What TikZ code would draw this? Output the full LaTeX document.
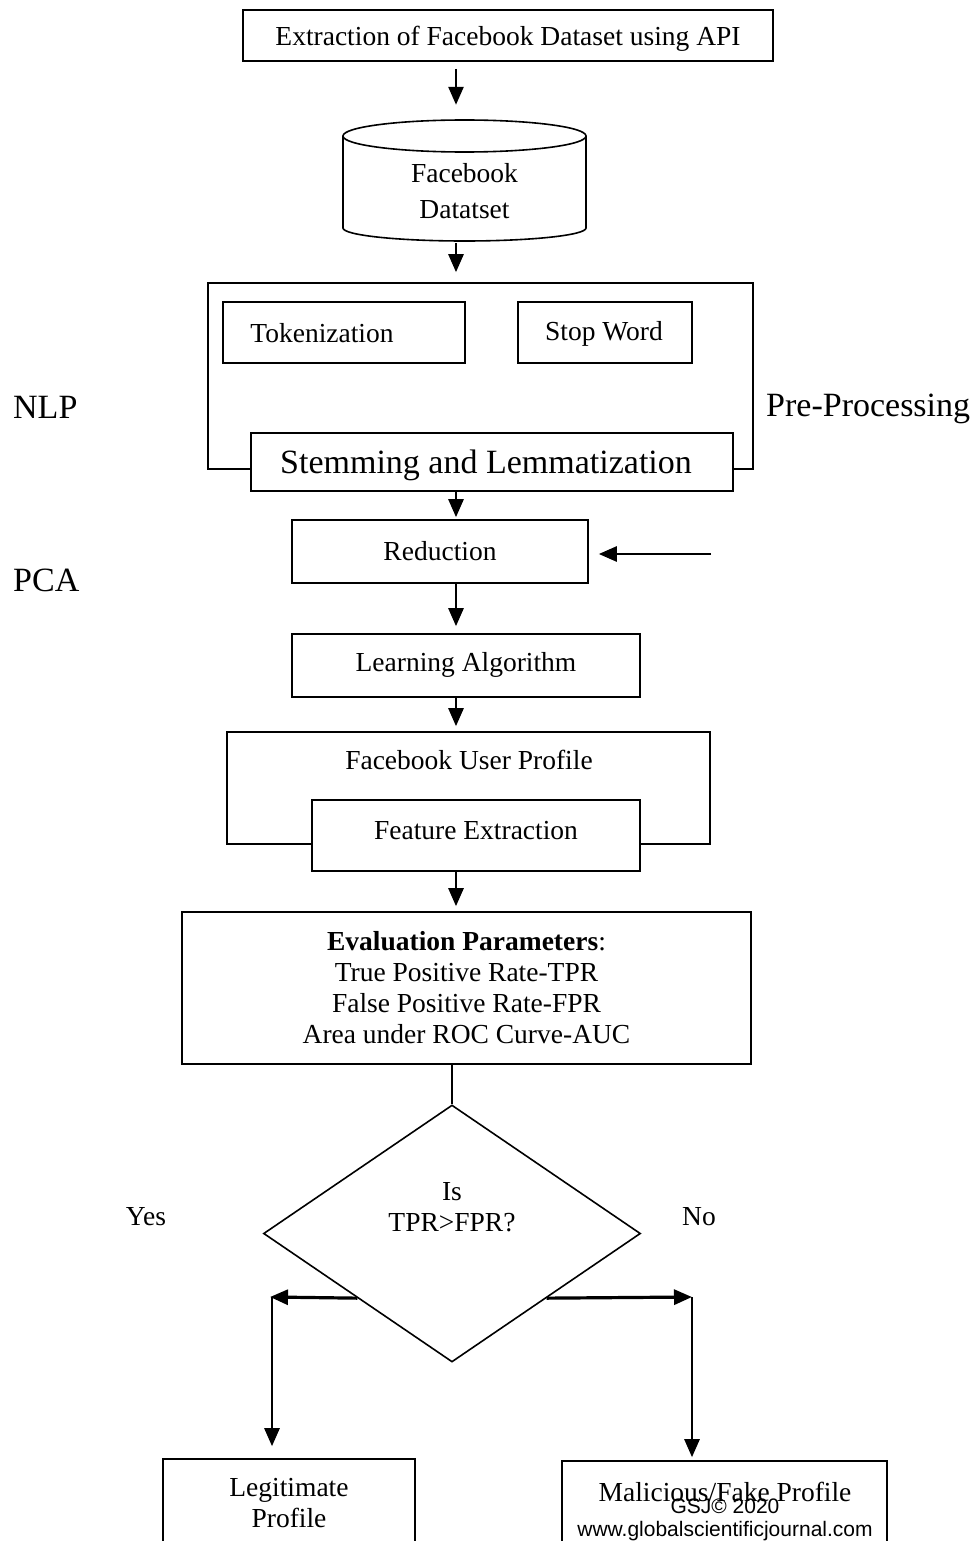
\documentclass[tikz,border=0pt]{standalone}
\usepackage{fontspec}
\setmainfont{Liberation Serif}
\setsansfont{Liberation Sans}
\usetikzlibrary{arrows.meta,shapes.geometric,calc}
\newcommand\fsn{\fontsize{27.5}{31}\selectfont}
\newcommand\fbg{\fontsize{34}{40}\selectfont}
\newcommand\fwm{\sffamily\fontsize{21}{25}\selectfont}
\tikzset{
  box/.style={draw, line width=1.6pt, fill=white, inner sep=0pt, font=\fsn, align=center},
  lbl/.style={inner sep=0pt, font=\fsn, align=center},
  biglbl/.style={inner sep=0pt, font=\fbg},
  wmark/.style={inner sep=0pt, font=\fwm},
  arr/.style={line width=2.6pt, -{Triangle[length=18pt,width=15pt]}},
  plainline/.style={line width=2.6pt},
}
\begin{document}
\begin{tikzpicture}[x=1pt,y=-1pt]
\useasboundingbox (0,0) rectangle (973,1541);
\clip (0,0) rectangle (973,1541);
\coordinate (cx) at (456,0);
% top box
\node[box, minimum width=530pt, minimum height=51pt] (top) at (508,35.5) {};
\node[lbl] (toptext) at (508,39) {Extraction of Facebook Dataset using API};
% cylinder
\node[lbl, minimum width=243pt, minimum height=121pt] (db) at (464.5,180.5) {};
\node[lbl] (dbtext) at (464.5,191) {Facebook\\[5pt]Datatset};
\draw[line width=1.6pt] (343,136) -- (343,228) arc[start angle=180, end angle=360, x radius=121.5pt, y radius=13pt] -- (586,136);
\draw[line width=1.6pt] (464.5,136) ellipse [x radius=121.5pt, y radius=16pt];
% pre-processing
\node[draw, line width=1.6pt, inner sep=0pt, minimum width=545pt, minimum height=186pt] (pre) at (480.5,376) {};
\node[box, minimum width=242pt, minimum height=61pt] (tok) at (344,332.5) {};
\node[lbl] (toktext) at (322,333) {Tokenization};
\node[box, minimum width=174pt, minimum height=61pt] (stop) at (605,332.5) {};
\node[lbl] (stoptext) at (604,334) {Stop Word};
\node[box, minimum width=482pt, minimum height=58pt] (stem) at (492,462) {};
\node[biglbl] (stemtext) at (486,465) {Stemming and Lemmatization};
\node[biglbl, anchor=west] (nlp) at (13,407) {NLP};
\node[biglbl, anchor=west] (prep) at (766,409) {Pre-Processing};
% reduction
\node[box, minimum width=296pt, minimum height=63pt] (red) at (440,551.5) {Reduction};
\node[biglbl, anchor=west] (pca) at (13,580) {PCA};
\coordinate (pin) at (711,554);
% learning
\node[box, minimum width=348pt, minimum height=63pt] (learn) at (466,665.5) {};
\node[lbl] (learntext) at (466,665) {Learning Algorithm};
% user profile
\node[draw, line width=1.6pt, inner sep=0pt, minimum width=483pt, minimum height=112pt] (fbu) at (468.5,788) {};
\node[lbl] (fbutext) at (469,760) {Facebook User Profile};
\node[box, minimum width=328pt, minimum height=71pt] (feat) at (476,835.5) {};
\node[lbl] (feattext) at (476,831) {Feature Extraction};
% evaluation
\node[box, minimum width=569pt, minimum height=152pt] (ev) at (466.5,988) {\textbf{Evaluation Parameters}:\\True Positive Rate-TPR\\False Positive Rate-FPR\\Area under ROC Curve-AUC};
% decision
\node[diamond, draw, line width=1.6pt, inner sep=0pt, minimum width=377pt, minimum height=257pt] (d) at (452,1233.5) {};
\node[lbl] (dtext) at (452,1207) {Is\\TPR>FPR?};
\node[lbl] (yes) at (146,1217) {Yes};
\node[lbl] (no) at (699,1217) {No};
% outcomes
\node[box, minimum width=252pt, minimum height=86pt] (leg) at (289,1502) {};
\node[lbl] (legtext) at (289,1503) {Legitimate\\Profile};
\node[box, minimum width=325pt, minimum height=84pt] (mal) at (724.5,1503) {};
\node[lbl] (maltext) at (725,1492) {Malicious/Fake Profile};
\node[wmark] (wm1) at (725,1506) {GSJ\textcopyright{} 2020};
\node[wmark] (wm2) at (725,1531) {www.globalscientificjournal.com};
\coordinate (lc) at (272,1297);
\coordinate (rc) at (692,1297);
% connectors
\draw[arr, shorten <=7pt, shorten >=15pt] (top.south -| cx) -- (db.north -| cx);
\draw[arr, shorten <=2pt, shorten >=10pt] (db.south -| cx) -- (pre.north -| cx);
\draw[arr, shorten >=2pt] (stem.south -| cx) -- (red.north -| cx);
\draw[arr, shorten >=7pt] (red.south -| cx) -- (learn.north -| cx);
\draw[arr, shorten >=5pt] (learn.south -| cx) -- (fbu.north -| cx);
\draw[arr, shorten >=5pt] (feat.south -| cx) -- (ev.north -| cx);
\draw[arr, shorten >=10pt] (pin) -- (pin -| red.east);
\draw[plainline] (ev.south -| d.north) -- (d.north);
\draw[arr, line width=3.2pt, shorten >=-2pt] ($(d.west)!0.5!(d.south)$) -- (lc);
\draw[arr, shorten >=12pt] (lc) -- (leg.north -| lc);
\draw[arr, line width=3.2pt, shorten >=0pt] ($(d.east)!0.5!(d.south)$) -- (rc);
\draw[arr, shorten >=3pt] (rc) -- (mal.north -| rc);
\end{tikzpicture}
\end{document}
